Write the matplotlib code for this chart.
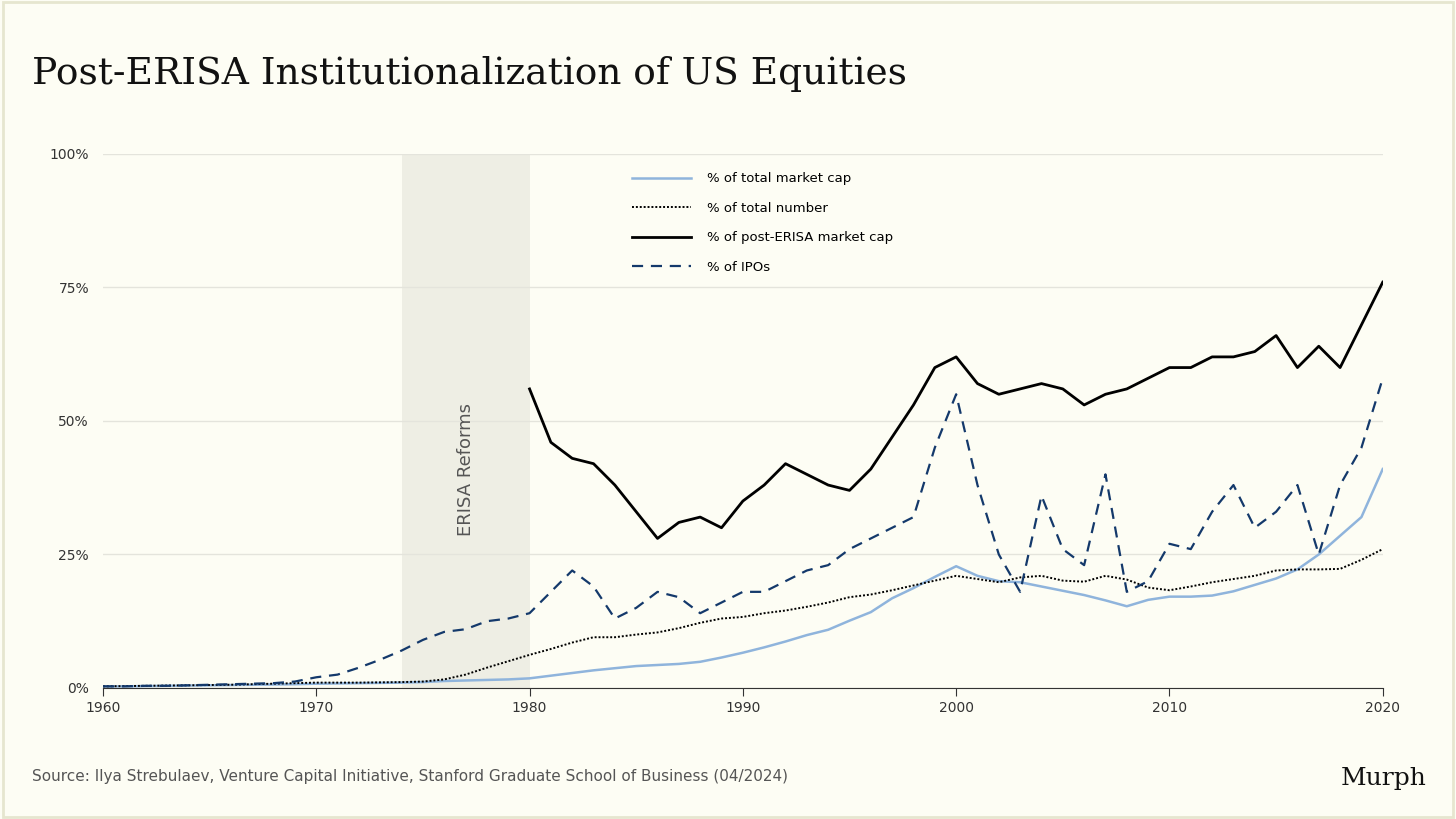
import matplotlib
matplotlib.use("Agg")
import matplotlib.pyplot as plt
from matplotlib.ticker import FuncFormatter

years = list(range(1960, 2021))
mcap = [0.3,0.3,0.35,0.4,0.45,0.5,0.55,0.6,0.65,0.7,0.8,0.85,0.9,0.95,1.0,1.1,1.3,1.4,1.5,1.6,1.8,2.3,2.8,3.3,3.7,4.1,4.3,4.5,4.9,5.7,6.6,7.6,8.7,9.9,10.9,12.6,14.2,16.8,18.7,20.8,22.8,21,20,19.8,19,18.2,17.4,16.4,15.3,16.5,17.1,17.1,17.3,18.1,19.3,20.5,22.2,25,28.5,32,41]
number = [0.3,0.35,0.4,0.45,0.5,0.55,0.6,0.7,0.8,0.9,1.0,1.0,1.0,1.05,1.1,1.2,1.6,2.5,3.8,5.0,6.2,7.3,8.5,9.5,9.5,10,10.4,11.2,12.2,13,13.3,14,14.5,15.2,16,17,17.5,18.3,19.2,20.1,21,20.4,19.8,20.7,21,20.1,19.9,21,20.3,18.8,18.3,19,19.8,20.4,21,22,22.2,22.2,22.3,24,26]
post_years = list(range(1980, 2021))
post = [56,46,43,42,38,33,28,31,32,30,35,38,42,40,38,37,41,47,53,60,62,57,55,56,57,56,53,55,56,58,60,60,62,62,63,66,60,64,60,68,76]
ipos = [0.3,0.3,0.4,0.4,0.5,0.6,0.7,0.8,0.9,1.2,2,2.5,3.8,5.3,7,9,10.5,11,12.5,13,14,18,22,19,13,15,18,17,14,16,18,18,20,22,23,26,28,30,32,45,55,38,25,18,36,26,23,40,18,20,27,26,33,38,30,33,38,25,38,45,58]

bg = "#fdfdf4"
fig = plt.figure(figsize=(14.56, 8.19), dpi=100, facecolor=bg)
fig.patches.append(plt.Rectangle((0.002, 0.002), 0.996, 0.996, transform=fig.transFigure,
                                 fill=False, edgecolor="#e6e6cf", lw=2))
ax = fig.add_axes([0.0707, 0.16, 0.879, 0.652], facecolor=bg)
ax.axvspan(1974, 1980, color="#eeeee4", zorder=0, lw=0)
ax.text(1977, 41, "ERISA Reforms", rotation=90, ha="center", va="center",
        fontsize=13, color="#555555", family="DejaVu Sans")

ax.plot(years, mcap, color="#8fb4dc", lw=1.8, label="% of total market cap")
ax.plot(years, number, color="black", lw=1.4, ls=(0, (1, 1)), label="% of total number")
ax.plot(post_years, post, color="black", lw=2.0, label="% of post-ERISA market cap")
ax.plot(years, ipos, color="#14396b", lw=1.6, ls=(0, (5, 3.5)), label="% of IPOs")

ax.set_xlim(1960, 2020)
ax.set_ylim(0, 100)
ax.set_yticks([0, 25, 50, 75, 100])
ax.yaxis.set_major_formatter(FuncFormatter(lambda v, p: f"{int(v)}%"))
ax.set_xticks([1960, 1970, 1980, 1990, 2000, 2010, 2020])
ax.grid(axis="y", color="#e4e4dc", lw=1)
ax.set_axisbelow(True)
for s in ["top", "right", "left"]:
    ax.spines[s].set_visible(False)
ax.spines["bottom"].set_color("#333333")
ax.tick_params(axis="y", length=0, labelsize=10, colors="#333333", pad=10)
ax.tick_params(axis="x", length=6, labelsize=10, colors="#333333", color="#333333")

leg = ax.legend(loc="upper left", bbox_to_anchor=(0.404, 0.988), frameon=False,
                fontsize=9.5, handlelength=4.5, labelspacing=1.25, handletextpad=1.2)

fig.text(0.022, 0.91, "Post-ERISA Institutionalization of US Equities", fontsize=27,
         family="DejaVu Serif", color="#111111", va="center")
fig.text(0.022, 0.052, "Source: Ilya Strebulaev, Venture Capital Initiative, Stanford Graduate School of Business (04/2024)",
         fontsize=11, color="#555555", va="center")
fig.text(0.98, 0.049, "Murph", fontsize=18, family="DejaVu Serif", color="#111111",
         ha="right", va="center")
fig.savefig("out.png", dpi=100, facecolor=bg)
